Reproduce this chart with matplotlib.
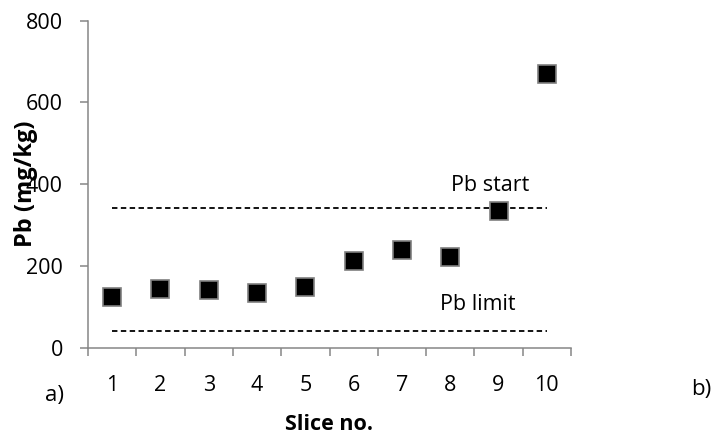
import matplotlib
matplotlib.use("Agg")
import matplotlib.pyplot as plt
from matplotlib.ticker import FixedLocator, NullFormatter, FixedFormatter

plt.rcParams['font.family'] = ['Open Sans', 'DejaVu Sans']

slices = [1, 2, 3, 4, 5, 6, 7, 8, 9, 10]
pb = [123, 144, 140, 135, 148, 212, 240, 222, 334, 670]
pb_start = 341
pb_limit = 40

fig = plt.figure(figsize=(7.16, 4.38), dpi=100)
ax = fig.add_axes([88/716, (438-347.7)/438, (571-88)/716, (347.7-20.7)/438])

x = [s - 0.5 for s in slices]
ax.plot([x[0], x[-1]], [pb_start, pb_start], color='black', lw=1.3, linestyle=(0, (3.0, 1.9)))
ax.plot([x[0], x[-1]], [pb_limit, pb_limit], color='black', lw=1.3, linestyle=(0, (3.0, 1.9)))
ax.plot(x, pb, linestyle='none', marker='s', markersize=13, markerfacecolor='black',
        markeredgecolor='#7f7f7f', markeredgewidth=1.2, zorder=3)

ax.text(8.32, pb_start + 55, 'Pb start', ha='center', va='center', fontsize=15.5)
ax.text(8.07, pb_limit + 66, 'Pb limit', ha='center', va='center', fontsize=15.5)

ax.set_xlim(0, 10)
ax.set_ylim(0, 800)
ax.xaxis.set_major_locator(FixedLocator(list(range(0, 11))))
ax.xaxis.set_major_formatter(NullFormatter())
ax.xaxis.set_minor_locator(FixedLocator(x))
ax.xaxis.set_minor_formatter(FixedFormatter([str(s) for s in slices]))
ax.tick_params(axis='x', which='minor', length=0, pad=19.5, labelsize=15.5)
ax.tick_params(axis='x', which='major', length=6, width=1.1, color='#868686', direction='out')
ax.set_yticks([0, 200, 400, 600, 800])
ax.tick_params(axis='y', length=6, width=1.1, color='#868686', direction='out', labelsize=15.5, pad=12)

for s in ['top', 'right']:
    ax.spines[s].set_visible(False)
for s in ['left', 'bottom']:
    ax.spines[s].set_color('#868686')
    ax.spines[s].set_linewidth(1.1)

fig.text(329/716, 1 - 425/438, 'Slice no.', ha='center', va='center', fontsize=15.5, fontweight='bold')
fig.text(26/716, 1 - 184/438, 'Pb (mg/kg)', rotation=90, ha='center', va='center',
         fontsize=17, fontweight='bold')
fig.text(55/716, 1 - 395/438, 'a)', ha='center', va='center', fontsize=16)
fig.text(701/716, 1 - 390/438, 'b)', ha='center', va='center', fontsize=16)

fig.savefig('out.png', dpi=100)
